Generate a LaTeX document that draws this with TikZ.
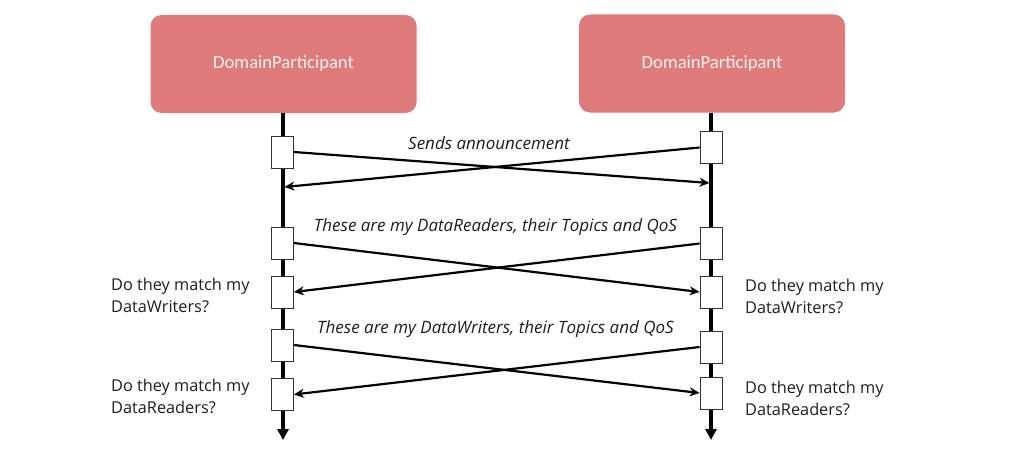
\documentclass[tikz,border=0pt]{standalone}
\usepackage{fontspec}
\setmainfont{Open Sans}
\newfontfamily\boxfont{Carlito}
\usetikzlibrary{arrows.meta}
\definecolor{partfill}{HTML}{E07B7B}
\definecolor{parttext}{HTML}{FDF2F2}
\definecolor{txt}{HTML}{1E1E1E}
\begin{document}
\begin{tikzpicture}[x=1pt,y=-1pt,
  participant/.style={rectangle,rounded corners=11pt,fill=partfill,draw=none,
    minimum width=266pt,minimum height=98pt,inner sep=0pt,
    text=parttext,font=\boxfont\fontsize{18.6}{22}\selectfont},
  lifeline/.style={line width=3.2pt,-{Triangle[length=11pt,width=11pt]}},
  actbox/.style={rectangle,draw=black!80,line width=0.8pt,fill=white,
    minimum width=22pt,minimum height=32pt,inner sep=0pt},
  msg/.style={line width=2.2pt,-{Stealth[length=10pt,width=9pt]}},
  msglabel/.style={font=\itshape\fontsize{17}{20}\selectfont,text=txt,inner sep=0pt},
  sidelabel/.style={font=\fontsize{16.3}{22}\selectfont,text=txt,align=left,inner sep=0pt,anchor=west}]
\useasboundingbox (0,0) rectangle (1035,452);
\fill[white] (0,0) rectangle (1035,452);
% participants
\node[participant] (pL) at (283.5,64) {DomainParticipant};
\node[participant] (pR) at (712,63.5) {DomainParticipant};
% lifeline ends
\coordinate (eL) at (283,440);
\coordinate (eR) at (711,440);
\draw[lifeline] (pL.south -| eL) -- (eL);
\draw[lifeline] (pR.south -| eR) -- (eR);
% activation boxes
\node[actbox] (l1) at (282.5,152) {};
\node[actbox] (r1) at (711,147.5) {};
\node[actbox] (l2) at (282.5,243) {};
\node[actbox] (r2) at (711,243.5) {};
\node[actbox] (l3) at (282.5,292) {};
\node[actbox] (r3) at (711,292) {};
\node[actbox] (l4) at (282.5,345) {};
\node[actbox] (r4) at (711,347) {};
\node[actbox] (l5) at (282.5,394.5) {};
\node[actbox] (r5) at (711,393) {};
% message end points on lifelines
\coordinate (m1end) at (709.5,183);
\coordinate (m2end) at (284.5,187);
% messages
\draw[msg] (l1.east) -- (m1end);
\draw[msg] (r1.west) -- (m2end);
\draw[msg] (l2.east) -- (r3.west);
\draw[msg] (r2.west) -- (l3.east);
\draw[msg] (l4.east) -- (r5.west);
\draw[msg] (r4.west) -- (l5.east);
% labels
\node[msglabel] (t1) at (489,143) {Sends announcement};
\node[msglabel] (t2) at (495.5,227) {These are my DataReaders, their Topics and QoS};
\node[msglabel] (t3) at (495.5,329) {These are my DataWriters, their Topics and QoS};
\node[sidelabel] (q1) at (111,295) {Do they match my\\DataWriters?};
\node[sidelabel] (q2) at (111,396) {Do they match my\\DataReaders?};
\node[sidelabel] (q3) at (745,296) {Do they match my\\DataWriters?};
\node[sidelabel] (q4) at (745,398) {Do they match my\\DataReaders?};
\end{tikzpicture}
\end{document}
